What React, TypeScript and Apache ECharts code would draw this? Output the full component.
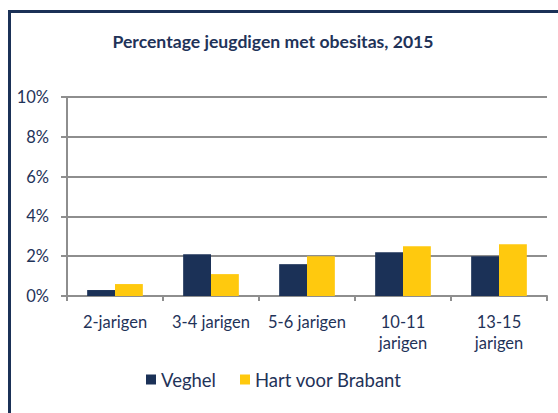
import React, { useEffect, useRef } from "react";
import * as echarts from "echarts";

const categories = ["2-jarigen", "3-4 jarigen", "5-6 jarigen", "10-11\njarigen", "13-15\njarigen"];
const veghel = [0.3, 2.1, 1.6, 2.2, 2.0];
const hartVoorBrabant = [0.6, 1.1, 2.0, 2.5, 2.6];
const seriesNames = ["Veghel", "Hart voor Brabant"];
const titleText = "Percentage jeugdigen met obesitas, 2015";

const NAVY = "#1B3157";
const YELLOW = "#FFC90E";
const TEXT = "#1F3359";
const GRID = "#8E8E8E";
const FONT = "Lato";

export default function App() {
  const ref = useRef<HTMLDivElement>(null);
  useEffect(() => {
    if (!ref.current) return;
    const chart = echarts.init(ref.current, undefined, { renderer: "svg" });
    chart.setOption({
      animation: false,
      backgroundColor: "#ffffff",
      textStyle: { fontFamily: FONT, color: TEXT },
      title: {
        text: titleText,
        left: 268,
        textAlign: "center",
        top: 27,
        textStyle: { fontFamily: FONT, fontSize: 17.6, fontWeight: "bold", color: TEXT },
      },
      graphic: [
        {
          type: "rect",
          shape: { x: 9.5, y: 11.5, width: 700, height: 600 },
          style: { fill: "none", stroke: NAVY, lineWidth: 3 },
          silent: true,
        },
      ],
      legend: {
        data: seriesNames,
        bottom: 19,
        left: 141,
        itemWidth: 10,
        itemHeight: 10,
        itemGap: 24,
        icon: "rect",
        textStyle: { fontFamily: FONT, fontSize: 18.5, color: TEXT },
      },
      grid: { left: 67, right: 11, top: 97, bottom: 117, containLabel: false },
      xAxis: {
        type: "category",
        data: categories,
        axisLine: { lineStyle: { color: GRID, width: 2 } },
        axisTick: { show: true, length: 5, alignWithLabel: false, lineStyle: { color: GRID, width: 2 } },
        axisLabel: { fontFamily: FONT, fontSize: 16.5, color: TEXT, lineHeight: 21, margin: 15, interval: 0 },
      },
      yAxis: {
        type: "value",
        min: 0,
        max: 10,
        interval: 2,
        axisLine: { show: true, lineStyle: { color: GRID, width: 2 } },
        axisTick: { show: true, length: 6, lineStyle: { color: GRID, width: 2 } },
        splitLine: { lineStyle: { color: GRID, width: 2 } },
        axisLabel: { fontFamily: FONT, fontSize: 16.5, color: TEXT, margin: 18, formatter: "{value}%" },
      },
      series: [
        {
          name: seriesNames[0],
          type: "bar",
          data: veghel,
          itemStyle: { color: NAVY },
          barGap: "0%",
          barCategoryGap: "42%",
        },
        {
          name: seriesNames[1],
          type: "bar",
          data: hartVoorBrabant,
          itemStyle: { color: YELLOW },
          barGap: "0%",
          barCategoryGap: "42%",
        },
      ],
    });
    return () => chart.dispose();
  }, []);
  return <div ref={ref} style={{ position: "fixed", left: 0, top: 0, width: 558, height: 413 }} />;
}
